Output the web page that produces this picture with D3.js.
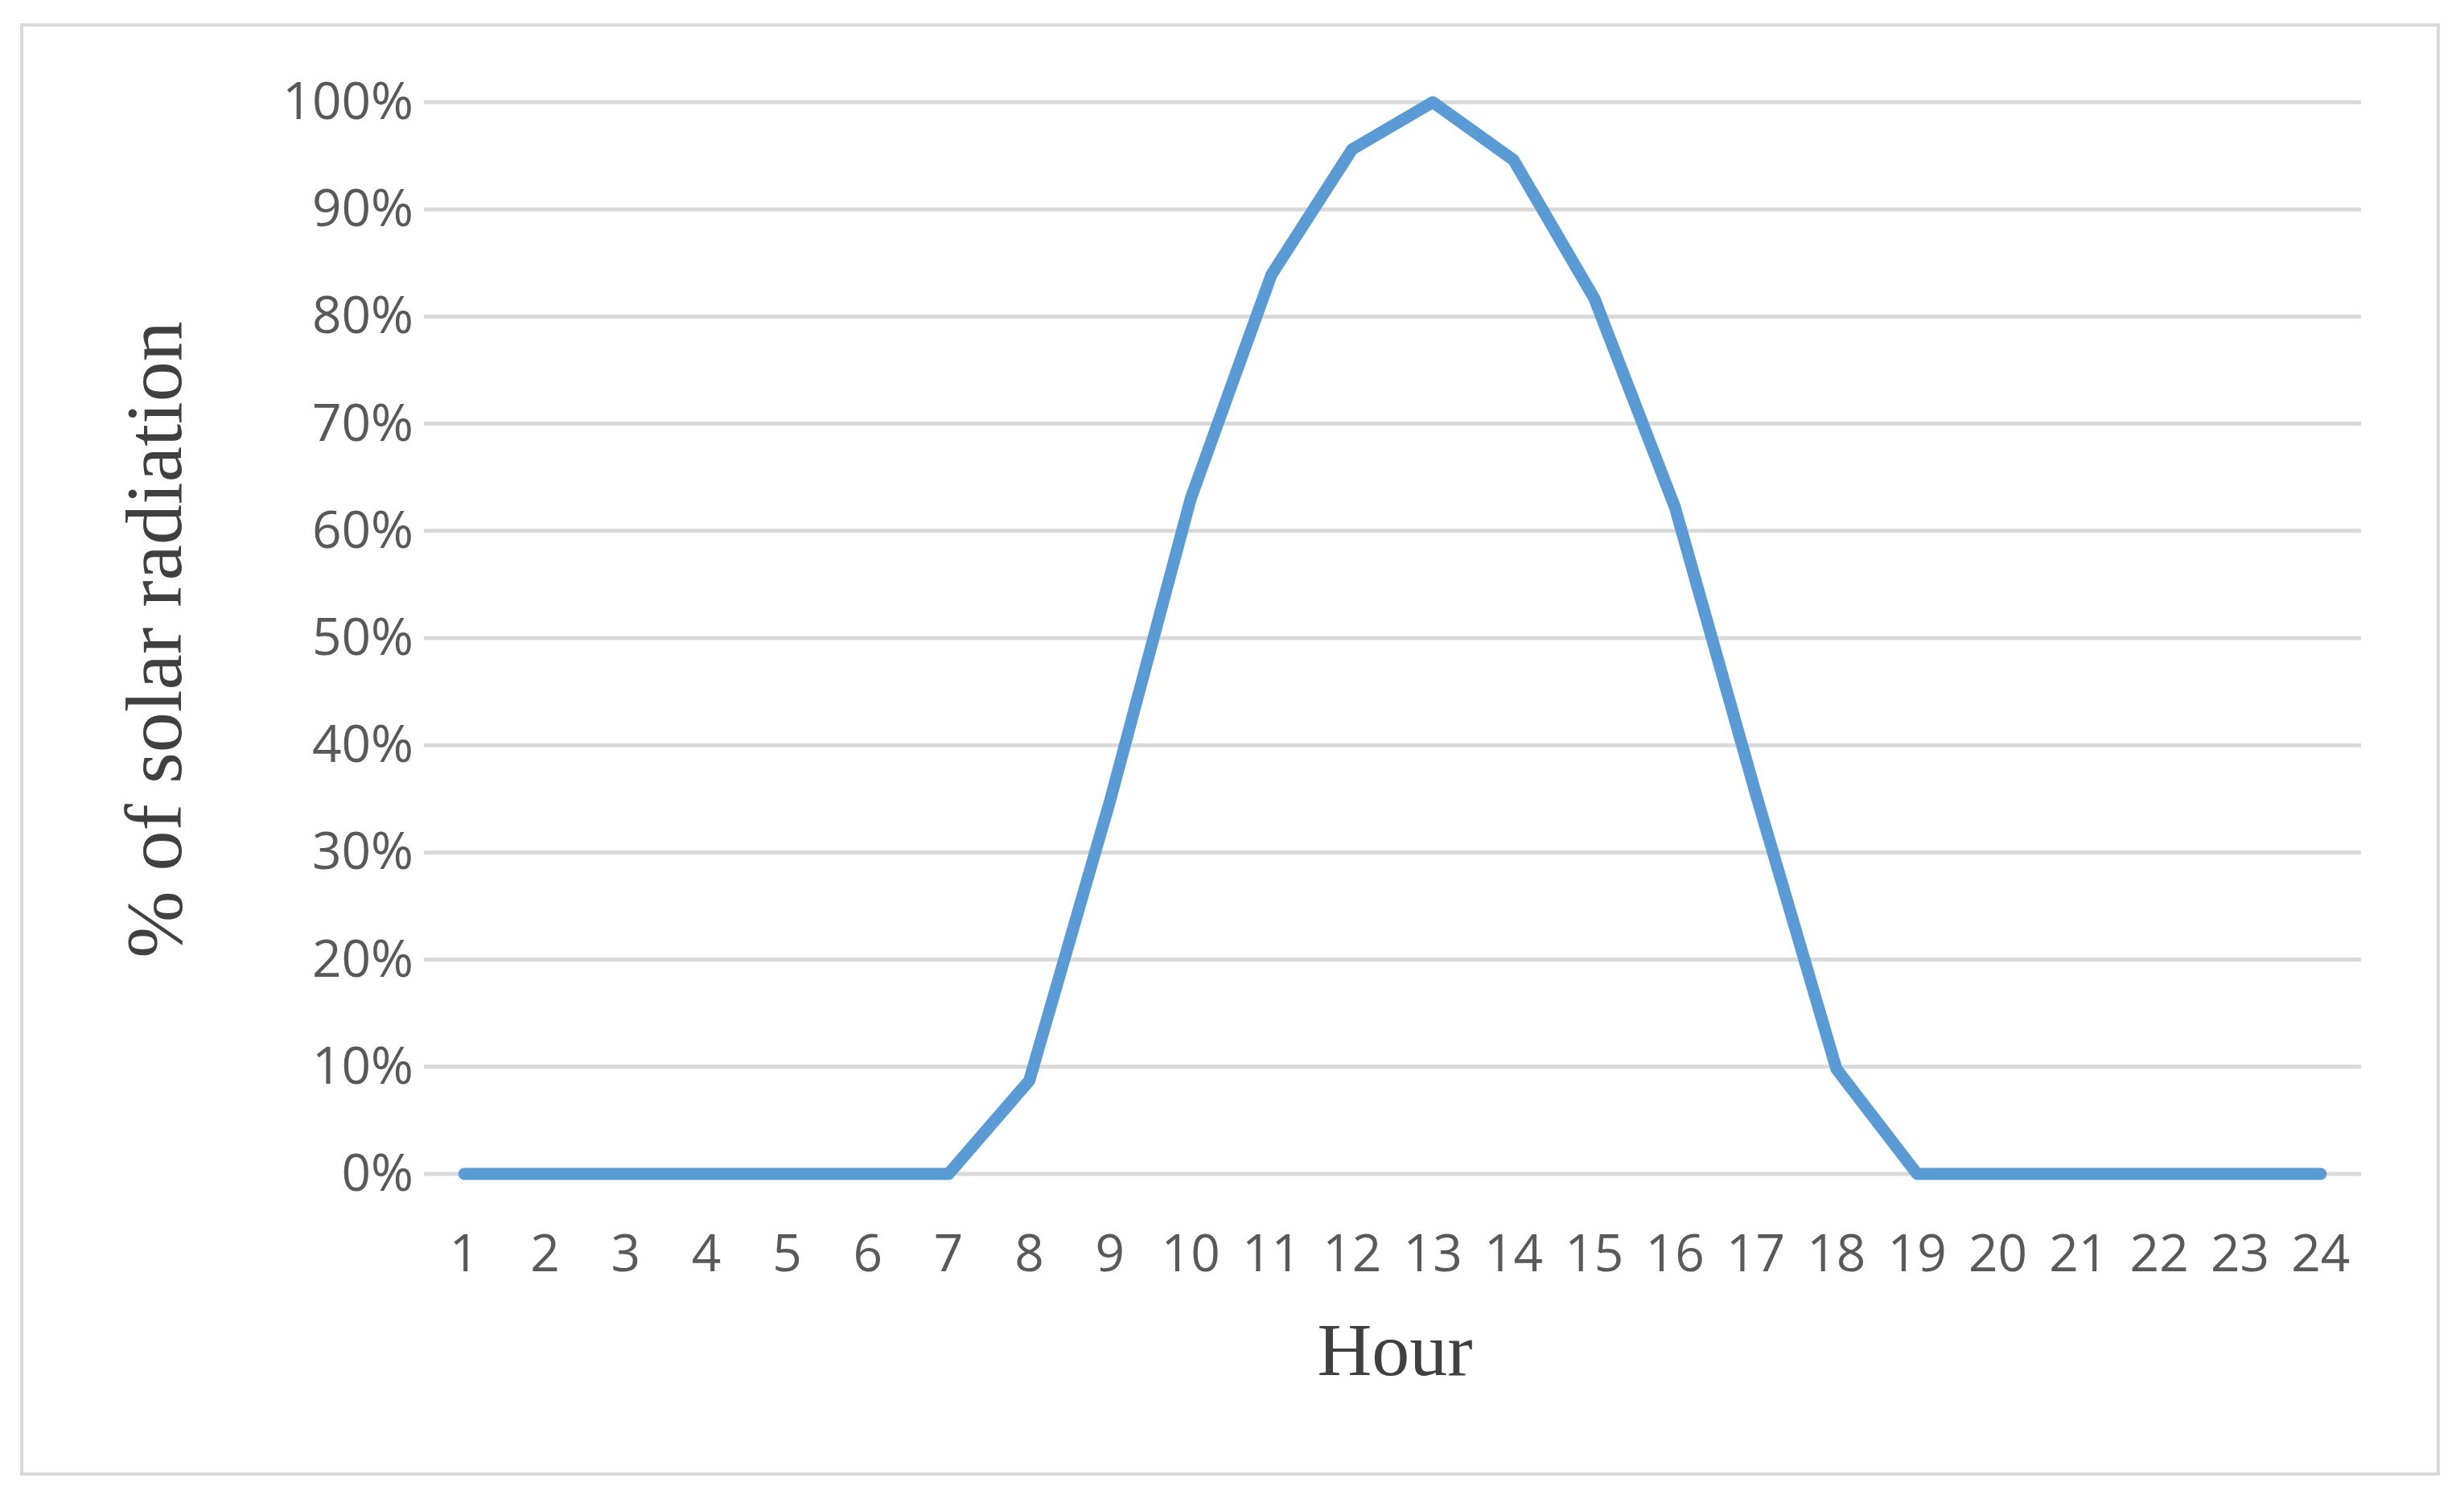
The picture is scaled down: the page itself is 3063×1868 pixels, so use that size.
<!DOCTYPE html>
<html><head><meta charset="utf-8">
<script src="https://cdn.jsdelivr.net/npm/d3@7"></script>
<style>body{margin:0;background:#fff}</style></head>
<body><svg id="c" width="3063" height="1868"></svg>
<script>
const hours = ["1","2","3","4","5","6","7","8","9","10","11","12","13","14","15","16","17","18","19","20","21","22","23","24"];
const radiation = [0,0,0,0,0,0,0,0.087,0.348,0.63,0.839,0.956,1.0,0.946,0.817,0.622,0.355,0.098,0,0,0,0,0,0];
const yTicks = [0,0.1,0.2,0.3,0.4,0.5,0.6,0.7,0.8,0.9,1.0];

const svg = d3.select("#c");
svg.append("rect").attr("x",27).attr("y",31).attr("width",3004).attr("height",1801)
  .attr("fill","#fff").attr("stroke","#d9d9d9").attr("stroke-width",4);

const x = d3.scaleBand().domain(hours).range([527,2935]);
const y = d3.scaleLinear().domain([0,1]).range([1459,127]);

svg.append("g").selectAll("line").data(yTicks).join("line")
  .attr("x1",527).attr("x2",2935).attr("y1",d=>y(d)).attr("y2",d=>y(d))
  .attr("stroke","#d9d9d9").attr("stroke-width",5);

const font = "'Open Sans', 'Liberation Sans', sans-serif";
const yAxis = svg.append("g").attr("transform","translate(527,0)")
  .call(d3.axisLeft(y).tickValues(yTicks).tickFormat(d3.format(".0%")).tickSize(0).tickPadding(13));
yAxis.select(".domain").remove();
yAxis.selectAll("text").attr("font-family",font).attr("font-size",64).attr("fill","#595959");

const xAxis = svg.append("g").attr("transform","translate(0,1459)")
  .call(d3.axisBottom(x).tickSize(0).tickPadding(76));
xAxis.select(".domain").remove();
xAxis.selectAll("text").attr("font-family",font).attr("font-size",64).attr("fill","#595959");

const line = d3.line().x((d,i)=>x(hours[i])+x.bandwidth()/2).y(d=>y(d));
svg.append("path").datum(radiation).attr("d",line).attr("fill","none")
  .attr("stroke","#5b9bd5").attr("stroke-width",15).attr("stroke-linecap","round").attr("stroke-linejoin","round");

svg.append("text").attr("x",1734).attr("y",1709).attr("text-anchor","middle")
  .attr("font-family","'Liberation Serif', serif").attr("font-size",94).attr("fill","#404040").text("Hour");
svg.append("text").attr("transform","translate(225,795) rotate(-90)").attr("text-anchor","middle")
  .attr("font-family","'Liberation Serif', serif").attr("font-size",100).attr("fill","#404040").text("% of solar radiation");
</script></body></html>
